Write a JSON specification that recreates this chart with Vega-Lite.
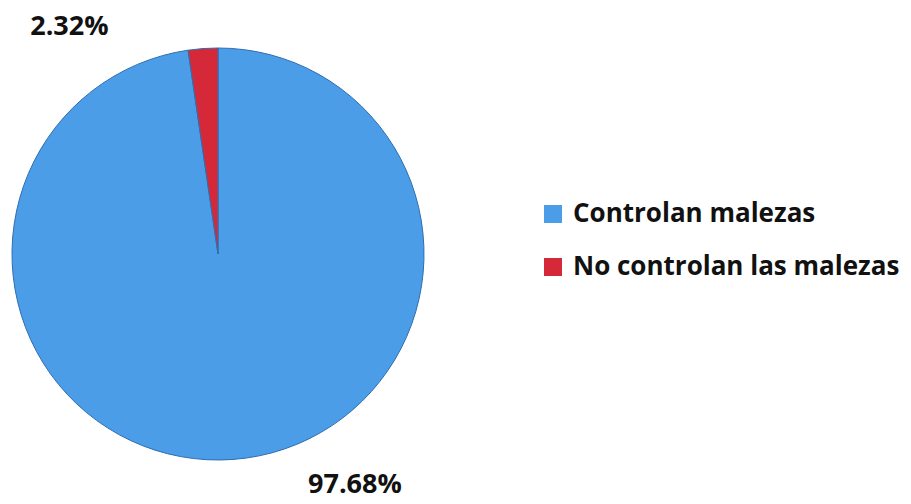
{
  "$schema": "https://vega.github.io/schema/vega-lite/v6.json",
  "width": 436,
  "height": 508,
  "autosize": {"type": "pad"},
  "padding": 0,
  "background": "white",
  "data": {"values": [
    {"category": "Controlan malezas", "value": 97.68, "label": "97.68%"},
    {"category": "No controlan las malezas", "value": 2.32, "label": "2.32%"}
  ]},
  "encoding": {
    "theta": {"field": "value", "type": "quantitative", "stack": true},
    "order": {"field": "value", "type": "quantitative", "sort": "descending"},
    "color": {
      "field": "category", "type": "nominal",
      "scale": {"domain": ["Controlan malezas", "No controlan las malezas"], "range": ["#4b9de8", "#d5293a"]},
      "legend": {
        "title": null, "orient": "none", "legendX": 540, "legendY": 201,
        "symbolType": "square", "symbolSize": 324, "symbolStrokeWidth": 0,
        "labelFont": "Open Sans", "labelFontWeight": "bold", "labelFontSize": 26, "labelColor": "#111",
        "rowPadding": 27, "labelOffset": 7, "labelLimit": 400
      }
    }
  },
  "layer": [
    {"mark": {"type": "arc", "radius": 206, "stroke": "#2f6db0", "strokeWidth": 1}},
    {
      "mark": {"type": "text", "radius": 232, "dx": 120, "font": "Open Sans", "fontWeight": "bold", "fontSize": 27},
      "encoding": {
        "text": {"condition": {"test": "datum.category == 'Controlan malezas'", "field": "label"}, "value": ""},
        "color": {"value": "#111"}
      }
    },
    {
      "mark": {"type": "text", "radius": 228, "dx": -132, "font": "Open Sans", "fontWeight": "bold", "fontSize": 27},
      "encoding": {
        "text": {"condition": {"test": "datum.category == 'No controlan las malezas'", "field": "label"}, "value": ""},
        "color": {"value": "#111"}
      }
    }
  ]
}
